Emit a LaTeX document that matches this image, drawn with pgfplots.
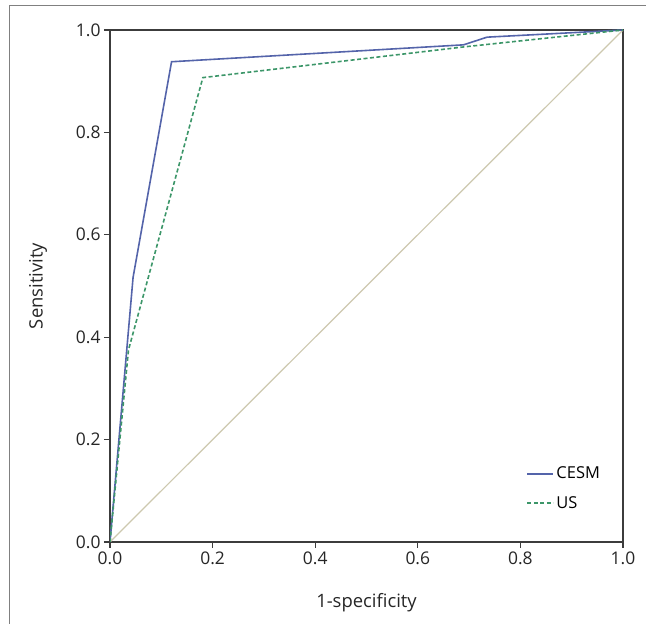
\documentclass[border=0pt]{standalone}
\usepackage{fontspec}
\setmainfont{Open Sans}
\usepackage{pgfplots}
\pgfplotsset{compat=1.18}
\definecolor{cesm}{RGB}{84,100,170}
\definecolor{us}{RGB}{60,150,105}
\definecolor{diag}{RGB}{205,200,175}
\definecolor{axgray}{RGB}{60,60,60}
\begin{document}
\begin{tikzpicture}
\path[use as bounding box] (0,0) rectangle (646bp,624bp);
\draw[line width=1bp, gray] (9bp,0) -- (9bp,618bp) -- (646bp,618bp);
\begin{axis}[
  at={(110bp,82bp)}, anchor=south west,
  scale only axis, width=513bp, height=512bp,
  xmin=0, xmax=1, ymin=0, ymax=1,
  xtick={0,0.2,...,1.0}, ytick={0,0.2,...,1.0},
  xtick pos=left, ytick pos=left,
  tick align=outside, major tick length=6bp,
  axis line style={axgray, line width=1.3bp},
  tick style={axgray, line width=1.3bp},
  /pgf/number format/.cd, fixed, fixed zerofill, precision=1, assume math mode=true,
  /pgfplots/.cd,
  ticklabel style={font=\fontsize{17.5}{20}\selectfont, text=black!85},
  xlabel={1-specificity}, ylabel={Sensitivity},
  label style={font=\fontsize{18.5}{21}\selectfont, text=black!85},
  x label style={at={(axis description cs:0.5,-0.119)}, anchor=center},
  y label style={at={(axis description cs:-0.14,0.5)}, anchor=center},
  legend style={at={(0.965,0.155)}, anchor=north east, draw=none, fill=none,
    font=\fontsize{16.5}{19}\selectfont, row sep=12bp,
    /tikz/every even column/.append style={column sep=0pt}},
  legend cell align=left,
  legend image code/.code={\draw[#1, line width=2bp] (0bp,0bp) -- (26bp,0bp);},
]
\addplot[diag, line width=1.2bp, forget plot] coordinates {(0,0) (1,1)};
\addplot[cesm, line width=1.6bp] coordinates {
  (0,0) (0.045,0.517) (0.120,0.938) (0.689,0.971) (0.735,0.986) (1,1)};
\addlegendentry{CESM}
\addplot[us, line width=1.6bp, dash pattern=on 4bp off 2.5bp] coordinates {
  (0,0) (0.036,0.375) (0.181,0.907) (0.690,0.967) (1,1)};
\addlegendentry{US}
\end{axis}
\end{tikzpicture}
\end{document}
